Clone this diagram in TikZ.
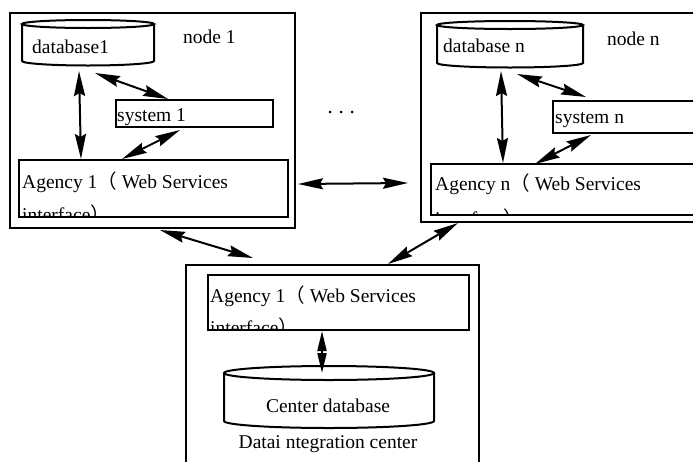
\documentclass[tikz,border=0pt]{standalone}
\usepackage{fontspec}
\setmainfont{Liberation Serif}
\newfontfamily\cjk{Noto Sans CJK SC}
\usetikzlibrary{arrows.meta}
\newcommand{\fwl}{{\cjk （}}
\newcommand{\fwr}{{\cjk ）}}
\begin{document}
\begin{tikzpicture}[x=1pt,y=-1pt,
  box/.style={draw,line width=2pt},
  lbl/.style={anchor=base west,inner sep=0pt,font=\fontsize{19.5}{23}\selectfont},
  dbl/.style={line width=2pt,{Stealth[length=25pt,width=11pt,inset=3pt]}-{Stealth[length=25pt,width=11pt,inset=3pt]}}]
\useasboundingbox (0,0) rectangle (693,461);
\clip (0,0) rectangle (693,461);
% ---------- node 1 ----------
\draw[box] (10,13) rectangle (295,228);
\draw[box] (22,24) -- (22,61) arc[start angle=180,end angle=0,x radius=66,y radius=4.5] -- (154,24);
\draw[box] (88,24) ellipse[x radius=66,y radius=4];
\node[lbl] (db1) at (32,53) {database1};
\node[lbl] (n1) at (183,43) {node 1};
\draw[box] (116,100) rectangle (273,127);
\node[lbl] (s1) at (117,121) {system 1};
\draw[box] (19,160) rectangle (288,217);
\begin{scope}
\clip (19,160) rectangle (288,217);
\node[lbl] (a1) at (22,188) {Agency 1\fwl\ Web Services};
\node[lbl] (a1b) at (22,221) {interface\fwr};
\end{scope}
% ---------- node n ----------
\draw[box] (421,13) rectangle (720,222);
\draw[box] (437,25) -- (437,63) arc[start angle=180,end angle=0,x radius=73,y radius=4.5] -- (583,25);
\draw[box] (510,25) ellipse[x radius=73,y radius=4];
\node[lbl] (dbn) at (443,52) {database n};
\node[lbl] (nn) at (607,45) {node n};
\draw[box] (553,101) rectangle (720,133);
\node[lbl] (sn) at (555,123) {system n};
\draw[box] (431,164) rectangle (720,215);
\begin{scope}
\clip (431,164) rectangle (720,215);
\node[lbl] (an) at (435,190) {Agency n\fwl\ Web Services};
\node[lbl] (anb) at (435,225) {interface\fwr};
\end{scope}
% ---------- centre ----------
\draw[box] (186,265) rectangle (479,480);
\draw[box] (208,275) rectangle (469,330);
\begin{scope}
\clip (208,275) rectangle (469,330);
\node[lbl] (ac) at (210,302) {Agency 1\fwl\ Web Services};
\node[lbl] (acb) at (210,334) {interface\fwr};
\end{scope}
\draw[box] (224,373) -- (224,421) arc[start angle=180,end angle=0,x radius=105,y radius=7] -- (434,373);
\draw[box] (329,373) ellipse[x radius=105,y radius=7];
\node[lbl,anchor=base] (cdb) at (328,412) {Center database};
\node[lbl,anchor=base] (dic) at (328,448) {Datai ntegration center};
% dots
\fill (330,112) circle (1.5) (341,112) circle (1.5) (352,112) circle (1.5);
% ---------- arrow end points ----------
\coordinate (p1a) at (79,71);   \coordinate (p1b) at (81,159);
\coordinate (p2a) at (95,73);   \coordinate (p2b) at (168,99);
\coordinate (p3a) at (180,130); \coordinate (p3b) at (122,159);
\coordinate (p4a) at (501,71);  \coordinate (p4b) at (503,163);
\coordinate (p5a) at (517,74);  \coordinate (p5b) at (586,97);
\coordinate (p6a) at (591,135); \coordinate (p6b) at (535,164);
\coordinate (p7a) at (298,184); \coordinate (p7b) at (408,183);
\coordinate (p8a) at (160,230); \coordinate (p8b) at (253,258);
\coordinate (p9a) at (458,223); \coordinate (p9b) at (388,264);
\coordinate (p10a) at (322,331); \coordinate (p10b) at (322,373);
\draw[dbl] (p1a) -- (p1b);
\draw[dbl] (p2a) -- (p2b);
\draw[dbl] (p3a) -- (p3b);
\draw[dbl] (p4a) -- (p4b);
\draw[dbl] (p5a) -- (p5b);
\draw[dbl] (p6a) -- (p6b);
\draw[dbl] (p7a) -- (p7b);
\draw[dbl] (p8a) -- (p8b);
\draw[dbl] (p9a) -- (p9b);
\draw[line width=2pt,{Triangle[length=20pt,width=9pt]}-{Triangle[length=20pt,width=9pt]}] (p10a) -- (p10b);
\end{tikzpicture}
\end{document}
